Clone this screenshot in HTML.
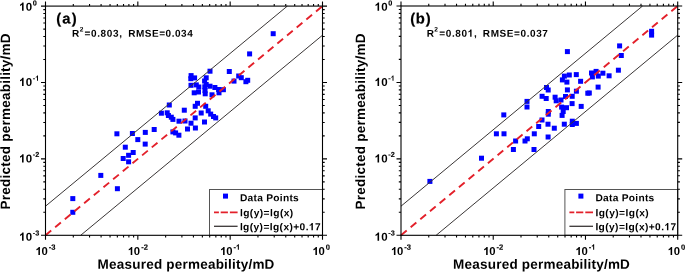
<!DOCTYPE html>
<html><head><meta charset="utf-8"><style>
html,body{margin:0;padding:0;background:#fff;}
#w{will-change:transform;width:685px;height:272px;}
svg{display:block;}
text{font-family:"Liberation Sans",sans-serif;font-weight:bold;fill:#000;text-rendering:geometricPrecision;}
.p{fill:#0000ff;}
</style></head><body><div id="w">
<svg width="685" height="272" viewBox="0 0 685 272">
<rect width="685" height="272" fill="#fff"/>
<rect x="70.3" y="196.1" width="5" height="5" class="p"/>
<rect x="70.3" y="209.8" width="5" height="5" class="p"/>
<rect x="98.3" y="172.9" width="5" height="5" class="p"/>
<rect x="114.9" y="186.2" width="5" height="5" class="p"/>
<rect x="114.4" y="131.3" width="5" height="5" class="p"/>
<rect x="129.9" y="131.0" width="5" height="5" class="p"/>
<rect x="142.8" y="129.9" width="5" height="5" class="p"/>
<rect x="135.3" y="137.1" width="5" height="5" class="p"/>
<rect x="142.7" y="141.6" width="5" height="5" class="p"/>
<rect x="122.8" y="144.7" width="5" height="5" class="p"/>
<rect x="130.7" y="150.0" width="5" height="5" class="p"/>
<rect x="126.1" y="152.8" width="5" height="5" class="p"/>
<rect x="120.7" y="156.0" width="5" height="5" class="p"/>
<rect x="126.1" y="159.3" width="5" height="5" class="p"/>
<rect x="151.7" y="127.0" width="5" height="5" class="p"/>
<rect x="170.4" y="129.4" width="5" height="5" class="p"/>
<rect x="173.1" y="130.4" width="5" height="5" class="p"/>
<rect x="176.4" y="132.7" width="5" height="5" class="p"/>
<rect x="166.8" y="102.5" width="5" height="5" class="p"/>
<rect x="158.9" y="110.7" width="5" height="5" class="p"/>
<rect x="164.7" y="110.3" width="5" height="5" class="p"/>
<rect x="165.9" y="113.0" width="5" height="5" class="p"/>
<rect x="168.8" y="114.7" width="5" height="5" class="p"/>
<rect x="170.4" y="116.9" width="5" height="5" class="p"/>
<rect x="176.5" y="118.7" width="5" height="5" class="p"/>
<rect x="181.8" y="107.7" width="5" height="5" class="p"/>
<rect x="182.5" y="118.5" width="5" height="5" class="p"/>
<rect x="185.0" y="126.5" width="5" height="5" class="p"/>
<rect x="188.5" y="120.7" width="5" height="5" class="p"/>
<rect x="192.7" y="115.4" width="5" height="5" class="p"/>
<rect x="192.7" y="103.8" width="5" height="5" class="p"/>
<rect x="195.0" y="100.8" width="5" height="5" class="p"/>
<rect x="203.2" y="103.8" width="5" height="5" class="p"/>
<rect x="198.7" y="110.5" width="5" height="5" class="p"/>
<rect x="205.7" y="108.3" width="5" height="5" class="p"/>
<rect x="208.2" y="111.6" width="5" height="5" class="p"/>
<rect x="211.0" y="114.0" width="5" height="5" class="p"/>
<rect x="213.2" y="115.4" width="5" height="5" class="p"/>
<rect x="202.0" y="119.5" width="5" height="5" class="p"/>
<rect x="192.9" y="125.5" width="5" height="5" class="p"/>
<rect x="188.6" y="73.1" width="5" height="5" class="p"/>
<rect x="192.1" y="75.4" width="5" height="5" class="p"/>
<rect x="207.5" y="68.7" width="5" height="5" class="p"/>
<rect x="203.7" y="75.3" width="5" height="5" class="p"/>
<rect x="202.1" y="78.5" width="5" height="5" class="p"/>
<rect x="188.5" y="82.8" width="5" height="5" class="p"/>
<rect x="193.8" y="82.4" width="5" height="5" class="p"/>
<rect x="196.3" y="84.5" width="5" height="5" class="p"/>
<rect x="203.7" y="82.0" width="5" height="5" class="p"/>
<rect x="207.5" y="83.7" width="5" height="5" class="p"/>
<rect x="212.4" y="85.0" width="5" height="5" class="p"/>
<rect x="191.7" y="90.3" width="5" height="5" class="p"/>
<rect x="196.0" y="89.5" width="5" height="5" class="p"/>
<rect x="202.5" y="88.0" width="5" height="5" class="p"/>
<rect x="202.7" y="91.3" width="5" height="5" class="p"/>
<rect x="226.8" y="69.0" width="5" height="5" class="p"/>
<rect x="236.2" y="73.5" width="5" height="5" class="p"/>
<rect x="238.8" y="75.2" width="5" height="5" class="p"/>
<rect x="231.5" y="78.6" width="5" height="5" class="p"/>
<rect x="243.4" y="79.2" width="5" height="5" class="p"/>
<rect x="245.2" y="77.8" width="5" height="5" class="p"/>
<rect x="247.1" y="51.4" width="5" height="5" class="p"/>
<rect x="270.7" y="31.2" width="5" height="5" class="p"/>
<rect x="188.3" y="76.2" width="5" height="5" class="p"/>
<rect x="209.5" y="92.3" width="5" height="5" class="p"/>
<rect x="216.5" y="90.3" width="5" height="5" class="p"/>
<rect x="220.9" y="87.2" width="5" height="5" class="p"/>
<rect x="216.1" y="87.0" width="5" height="5" class="p"/>
<rect x="202.3" y="84.3" width="5" height="5" class="p"/>
<line x1="45.5" y1="235.3" x2="322.5" y2="6.1" stroke="#e3202a" stroke-width="1.9" stroke-dasharray="7.4 5.14"/>
<line x1="45.5" y1="206.19" x2="287.32" y2="6.1" stroke="#3a3636" stroke-width="1.0"/>
<line x1="80.68" y1="235.3" x2="322.5" y2="35.21" stroke="#3a3636" stroke-width="1.0"/>
<rect x="209.5" y="189.5" width="113.0" height="45.80000000000001" fill="#fff" stroke="#555" stroke-width="1.0"/>
<rect x="223.0" y="193.6" width="5" height="5" fill="#0000ff"/>
<text x="239.92" y="201.20" font-size="10.2" letter-spacing="0.279" transform="rotate(0.05 239.92 201.20)">Data Points</text>
<line x1="214.0" y1="212.4" x2="237.6" y2="212.4" stroke="#e3202a" stroke-width="1.9" stroke-dasharray="4.9 1.8 7.2 2 7.7 100"/>
<text x="239.89" y="216.20" font-size="10.2" letter-spacing="0.440" transform="rotate(0.05 239.89 216.20)">lg(y)=lg(x)</text>
<line x1="214.0" y1="226.3" x2="237.6" y2="226.3" stroke="#3a3636" stroke-width="1.3"/>
<path d="M774 0L494 0L494 1055Q341 912 133 844L133 1098Q243 1134 372 1234Q501 1335 549 1466L774 1466Z" transform="translate(309.00,230.3) scale(0.00498,-0.00498)"/><text x="239.89" y="230.30" font-size="10.2" letter-spacing="0.402" transform="rotate(0.05 239.89 230.30)">lg(y)=lg(x)+0. 7</text>
<rect x="45.5" y="6.1" width="277.0" height="229.20000000000002" fill="none" stroke="#000" stroke-width="1.1"/>
<path d="M45.50 235.3v4.5M45.50 6.1v-4.5M45.5 235.30h-4.5M322.5 235.30h4.5M73.30 235.3v2.2M73.30 6.1v-2.2M45.5 212.30h-2.2M322.5 212.30h2.2M89.55 235.3v2.2M89.55 6.1v-2.2M45.5 198.85h-2.2M322.5 198.85h2.2M101.09 235.3v2.2M101.09 6.1v-2.2M45.5 189.30h-2.2M322.5 189.30h2.2M110.04 235.3v2.2M110.04 6.1v-2.2M45.5 181.90h-2.2M322.5 181.90h2.2M117.35 235.3v2.2M117.35 6.1v-2.2M45.5 175.85h-2.2M322.5 175.85h2.2M123.53 235.3v2.2M123.53 6.1v-2.2M45.5 170.73h-2.2M322.5 170.73h2.2M128.89 235.3v2.2M128.89 6.1v-2.2M45.5 166.30h-2.2M322.5 166.30h2.2M133.61 235.3v2.2M133.61 6.1v-2.2M45.5 162.40h-2.2M322.5 162.40h2.2M137.83 235.3v4.5M137.83 6.1v-4.5M45.5 158.90h-4.5M322.5 158.90h4.5M165.63 235.3v2.2M165.63 6.1v-2.2M45.5 135.90h-2.2M322.5 135.90h2.2M181.89 235.3v2.2M181.89 6.1v-2.2M45.5 122.45h-2.2M322.5 122.45h2.2M193.42 235.3v2.2M193.42 6.1v-2.2M45.5 112.90h-2.2M322.5 112.90h2.2M202.37 235.3v2.2M202.37 6.1v-2.2M45.5 105.50h-2.2M322.5 105.50h2.2M209.68 235.3v2.2M209.68 6.1v-2.2M45.5 99.45h-2.2M322.5 99.45h2.2M215.86 235.3v2.2M215.86 6.1v-2.2M45.5 94.33h-2.2M322.5 94.33h2.2M221.22 235.3v2.2M221.22 6.1v-2.2M45.5 89.90h-2.2M322.5 89.90h2.2M225.94 235.3v2.2M225.94 6.1v-2.2M45.5 86.00h-2.2M322.5 86.00h2.2M230.17 235.3v4.5M230.17 6.1v-4.5M45.5 82.50h-4.5M322.5 82.50h4.5M257.96 235.3v2.2M257.96 6.1v-2.2M45.5 59.50h-2.2M322.5 59.50h2.2M274.22 235.3v2.2M274.22 6.1v-2.2M45.5 46.05h-2.2M322.5 46.05h2.2M285.76 235.3v2.2M285.76 6.1v-2.2M45.5 36.50h-2.2M322.5 36.50h2.2M294.70 235.3v2.2M294.70 6.1v-2.2M45.5 29.10h-2.2M322.5 29.10h2.2M302.02 235.3v2.2M302.02 6.1v-2.2M45.5 23.05h-2.2M322.5 23.05h2.2M308.20 235.3v2.2M308.20 6.1v-2.2M45.5 17.93h-2.2M322.5 17.93h2.2M313.55 235.3v2.2M313.55 6.1v-2.2M45.5 13.50h-2.2M322.5 13.50h2.2M318.28 235.3v2.2M318.28 6.1v-2.2M45.5 9.60h-2.2M322.5 9.60h2.2M322.50 235.3v4.5M322.50 6.1v-4.5M45.5 6.10h-4.5M322.5 6.10h4.5" stroke="#000" stroke-width="1.1" fill="none"/>
<path d="M774 0L494 0L494 1055Q341 912 133 844L133 1098Q243 1134 372 1234Q501 1335 549 1466L774 1466Z" transform="translate(19.25,240.8) scale(0.00562,-0.00562)"/><text x="19.25" y="240.80" font-size="11.5" letter-spacing="0.227" transform="rotate(0.05 19.25 240.80)"> 0</text>
<text x="32.81" y="235.50" font-size="7.3" letter-spacing="0.000" transform="rotate(0.05 32.81 235.50)" stroke="#000" stroke-width="0.12">-3</text>
<path d="M774 0L494 0L494 1055Q341 912 133 844L133 1098Q243 1134 372 1234Q501 1335 549 1466L774 1466Z" transform="translate(35.67,255.0) scale(0.00552,-0.00552)"/><text x="35.67" y="255.00" font-size="11.3" letter-spacing="-0.472" transform="rotate(0.05 35.67 255.00)"> 0</text>
<text x="48.80" y="249.80" font-size="7.6" letter-spacing="0.000" transform="rotate(0.05 48.80 249.80)" stroke="#000" stroke-width="0.12">-3</text>
<path d="M774 0L494 0L494 1055Q341 912 133 844L133 1098Q243 1134 372 1234Q501 1335 549 1466L774 1466Z" transform="translate(19.25,162.4) scale(0.00562,-0.00562)"/><text x="19.25" y="162.40" font-size="11.5" letter-spacing="0.227" transform="rotate(0.05 19.25 162.40)"> 0</text>
<text x="32.81" y="157.10" font-size="7.3" letter-spacing="0.000" transform="rotate(0.05 32.81 157.10)" stroke="#000" stroke-width="0.12">-2</text>
<path d="M774 0L494 0L494 1055Q341 912 133 844L133 1098Q243 1134 372 1234Q501 1335 549 1466L774 1466Z" transform="translate(128.00,255.0) scale(0.00552,-0.00552)"/><text x="128.00" y="255.00" font-size="11.3" letter-spacing="-0.472" transform="rotate(0.05 128.00 255.00)"> 0</text>
<text x="141.14" y="249.80" font-size="7.6" letter-spacing="0.000" transform="rotate(0.05 141.14 249.80)" stroke="#000" stroke-width="0.12">-2</text>
<path d="M774 0L494 0L494 1055Q341 912 133 844L133 1098Q243 1134 372 1234Q501 1335 549 1466L774 1466Z" transform="translate(19.25,86.1) scale(0.00562,-0.00562)"/><text x="19.25" y="86.10" font-size="11.5" letter-spacing="0.227" transform="rotate(0.05 19.25 86.10)"> 0</text>
<path d="M774 0L494 0L494 1055Q341 912 133 844L133 1098Q243 1134 372 1234Q501 1335 549 1466L774 1466Z" transform="translate(35.25,80.8) scale(0.00356,-0.00356)"/><text x="32.81" y="80.80" font-size="7.3" letter-spacing="0.000" transform="rotate(0.05 32.81 80.80)" stroke="#000" stroke-width="0.12">- </text>
<path d="M774 0L494 0L494 1055Q341 912 133 844L133 1098Q243 1134 372 1234Q501 1335 549 1466L774 1466Z" transform="translate(220.33,255.0) scale(0.00552,-0.00552)"/><text x="220.33" y="255.00" font-size="11.3" letter-spacing="-0.472" transform="rotate(0.05 220.33 255.00)"> 0</text>
<path d="M774 0L494 0L494 1055Q341 912 133 844L133 1098Q243 1134 372 1234Q501 1335 549 1466L774 1466Z" transform="translate(236.00,249.8) scale(0.00371,-0.00371)"/><text x="233.47" y="249.80" font-size="7.6" letter-spacing="0.000" transform="rotate(0.05 233.47 249.80)" stroke="#000" stroke-width="0.12">- </text>
<path d="M774 0L494 0L494 1055Q341 912 133 844L133 1098Q243 1134 372 1234Q501 1335 549 1466L774 1466Z" transform="translate(19.25,10.8) scale(0.00562,-0.00562)"/><text x="19.25" y="10.80" font-size="11.5" letter-spacing="0.227" transform="rotate(0.05 19.25 10.80)"> 0</text>
<text x="32.81" y="5.50" font-size="7.3" letter-spacing="0.000" transform="rotate(0.05 32.81 5.50)" stroke="#000" stroke-width="0.12">0</text>
<path d="M774 0L494 0L494 1055Q341 912 133 844L133 1098Q243 1134 372 1234Q501 1335 549 1466L774 1466Z" transform="translate(312.67,255.0) scale(0.00552,-0.00552)"/><text x="312.67" y="255.00" font-size="11.3" letter-spacing="-0.472" transform="rotate(0.05 312.67 255.00)"> 0</text>
<text x="325.80" y="249.80" font-size="7.6" letter-spacing="0.000" transform="rotate(0.05 325.80 249.80)" stroke="#000" stroke-width="0.12">0</text>
<text x="97.60" y="268.70" font-size="13.5" letter-spacing="0.216" transform="rotate(0.05 97.60 268.70)">Measured permeability/mD</text>
<text transform="translate(9.90,209.40) rotate(-89.95)" x="0" y="0" font-size="13.5" letter-spacing="0.236">Predicted permeability/mD</text>
<text x="56.26" y="23.50" font-size="14.8" letter-spacing="1.193" transform="rotate(0.05 56.26 23.50)" stroke="#000" stroke-width="0.2">(a)</text>
<text x="71.93" y="36.70" font-size="10" letter-spacing="0.000" transform="rotate(0.05 71.93 36.70)">R</text>
<text x="79.67" y="31.60" font-size="6.6" letter-spacing="0.000" transform="rotate(0.05 79.67 31.60)">2</text>
<text x="84.48" y="36.70" font-size="10" letter-spacing="0.657" transform="rotate(0.05 84.48 36.70)">=0.803,</text>
<text x="128.13" y="36.70" font-size="10" letter-spacing="0.541" transform="rotate(0.05 128.13 36.70)">RMSE=0.034</text>
<rect x="427.4" y="178.9" width="5" height="5" class="p"/>
<rect x="479.0" y="155.7" width="5" height="5" class="p"/>
<rect x="493.9" y="131.3" width="5" height="5" class="p"/>
<rect x="501.5" y="131.3" width="5" height="5" class="p"/>
<rect x="501.3" y="112.4" width="5" height="5" class="p"/>
<rect x="524.5" y="98.9" width="5" height="5" class="p"/>
<rect x="524.5" y="104.5" width="5" height="5" class="p"/>
<rect x="513.1" y="138.5" width="5" height="5" class="p"/>
<rect x="510.9" y="147.0" width="5" height="5" class="p"/>
<rect x="522.5" y="138.5" width="5" height="5" class="p"/>
<rect x="524.8" y="136.3" width="5" height="5" class="p"/>
<rect x="531.8" y="131.3" width="5" height="5" class="p"/>
<rect x="531.5" y="147.0" width="5" height="5" class="p"/>
<rect x="536.2" y="124.0" width="5" height="5" class="p"/>
<rect x="539.5" y="117.5" width="5" height="5" class="p"/>
<rect x="545.5" y="121.7" width="5" height="5" class="p"/>
<rect x="545.6" y="134.5" width="5" height="5" class="p"/>
<rect x="551.8" y="125.7" width="5" height="5" class="p"/>
<rect x="561.8" y="121.7" width="5" height="5" class="p"/>
<rect x="569.8" y="118.7" width="5" height="5" class="p"/>
<rect x="569.8" y="122.0" width="5" height="5" class="p"/>
<rect x="573.9" y="120.9" width="5" height="5" class="p"/>
<rect x="544.0" y="85.0" width="5" height="5" class="p"/>
<rect x="545.7" y="87.5" width="5" height="5" class="p"/>
<rect x="539.6" y="93.8" width="5" height="5" class="p"/>
<rect x="543.7" y="96.0" width="5" height="5" class="p"/>
<rect x="552.6" y="94.7" width="5" height="5" class="p"/>
<rect x="553.7" y="98.3" width="5" height="5" class="p"/>
<rect x="558.5" y="97.5" width="5" height="5" class="p"/>
<rect x="563.0" y="94.0" width="5" height="5" class="p"/>
<rect x="569.7" y="93.8" width="5" height="5" class="p"/>
<rect x="569.6" y="101.1" width="5" height="5" class="p"/>
<rect x="559.1" y="104.6" width="5" height="5" class="p"/>
<rect x="564.0" y="105.2" width="5" height="5" class="p"/>
<rect x="560.7" y="109.0" width="5" height="5" class="p"/>
<rect x="559.6" y="112.9" width="5" height="5" class="p"/>
<rect x="545.8" y="109.0" width="5" height="5" class="p"/>
<rect x="545.8" y="111.7" width="5" height="5" class="p"/>
<rect x="578.7" y="103.9" width="5" height="5" class="p"/>
<rect x="561.9" y="73.6" width="5" height="5" class="p"/>
<rect x="566.8" y="72.5" width="5" height="5" class="p"/>
<rect x="573.8" y="72.1" width="5" height="5" class="p"/>
<rect x="559.9" y="77.4" width="5" height="5" class="p"/>
<rect x="564.4" y="79.6" width="5" height="5" class="p"/>
<rect x="578.1" y="78.8" width="5" height="5" class="p"/>
<rect x="564.9" y="87.4" width="5" height="5" class="p"/>
<rect x="573.9" y="88.7" width="5" height="5" class="p"/>
<rect x="585.3" y="90.7" width="5" height="5" class="p"/>
<rect x="595.6" y="84.6" width="5" height="5" class="p"/>
<rect x="589.0" y="70.5" width="5" height="5" class="p"/>
<rect x="593.6" y="68.9" width="5" height="5" class="p"/>
<rect x="589.9" y="74.4" width="5" height="5" class="p"/>
<rect x="595.8" y="73.6" width="5" height="5" class="p"/>
<rect x="600.4" y="70.7" width="5" height="5" class="p"/>
<rect x="606.6" y="73.3" width="5" height="5" class="p"/>
<rect x="615.9" y="67.7" width="5" height="5" class="p"/>
<rect x="617.1" y="43.4" width="5" height="5" class="p"/>
<rect x="618.8" y="53.0" width="5" height="5" class="p"/>
<rect x="649.1" y="28.8" width="5" height="5" class="p"/>
<rect x="649.1" y="32.6" width="5" height="5" class="p"/>
<rect x="564.9" y="49.1" width="5" height="5" class="p"/>
<rect x="586.8" y="90.5" width="5" height="5" class="p"/>
<line x1="401.0" y1="235.3" x2="677.7" y2="6.0" stroke="#e3202a" stroke-width="1.9" stroke-dasharray="7.4 5.14"/>
<line x1="401.0" y1="206.18" x2="642.56" y2="6.0" stroke="#3a3636" stroke-width="1.0"/>
<line x1="436.14" y1="235.3" x2="677.7" y2="35.12" stroke="#3a3636" stroke-width="1.0"/>
<rect x="564.9" y="189.5" width="112.80000000000007" height="45.80000000000001" fill="#fff" stroke="#555" stroke-width="1.0"/>
<rect x="578.4" y="193.6" width="5" height="5" fill="#0000ff"/>
<text x="595.42" y="201.20" font-size="10.2" letter-spacing="0.279" transform="rotate(0.05 595.42 201.20)">Data Points</text>
<line x1="569.4" y1="212.4" x2="593.0" y2="212.4" stroke="#e3202a" stroke-width="1.9" stroke-dasharray="4.9 1.8 7.2 2 7.7 100"/>
<text x="595.39" y="216.20" font-size="10.2" letter-spacing="0.440" transform="rotate(0.05 595.39 216.20)">lg(y)=lg(x)</text>
<line x1="569.4" y1="226.3" x2="593.0" y2="226.3" stroke="#3a3636" stroke-width="1.3"/>
<path d="M774 0L494 0L494 1055Q341 912 133 844L133 1098Q243 1134 372 1234Q501 1335 549 1466L774 1466Z" transform="translate(664.50,230.3) scale(0.00498,-0.00498)"/><text x="595.39" y="230.30" font-size="10.2" letter-spacing="0.402" transform="rotate(0.05 595.39 230.30)">lg(y)=lg(x)+0. 7</text>
<rect x="401.0" y="6.0" width="276.70000000000005" height="229.3" fill="none" stroke="#000" stroke-width="1.1"/>
<path d="M401.00 235.3v4.5M401.00 6.0v-4.5M401.0 235.30h-4.5M677.7 235.30h4.5M428.76 235.3v2.2M428.76 6.0v-2.2M401.0 212.29h-2.2M677.7 212.29h2.2M445.01 235.3v2.2M445.01 6.0v-2.2M401.0 198.83h-2.2M677.7 198.83h2.2M456.53 235.3v2.2M456.53 6.0v-2.2M401.0 189.28h-2.2M677.7 189.28h2.2M465.47 235.3v2.2M465.47 6.0v-2.2M401.0 181.88h-2.2M677.7 181.88h2.2M472.77 235.3v2.2M472.77 6.0v-2.2M401.0 175.82h-2.2M677.7 175.82h2.2M478.95 235.3v2.2M478.95 6.0v-2.2M401.0 170.71h-2.2M677.7 170.71h2.2M484.29 235.3v2.2M484.29 6.0v-2.2M401.0 166.27h-2.2M677.7 166.27h2.2M489.01 235.3v2.2M489.01 6.0v-2.2M401.0 162.36h-2.2M677.7 162.36h2.2M493.23 235.3v4.5M493.23 6.0v-4.5M401.0 158.87h-4.5M677.7 158.87h4.5M521.00 235.3v2.2M521.00 6.0v-2.2M401.0 135.86h-2.2M677.7 135.86h2.2M537.24 235.3v2.2M537.24 6.0v-2.2M401.0 122.40h-2.2M677.7 122.40h2.2M548.76 235.3v2.2M548.76 6.0v-2.2M401.0 112.85h-2.2M677.7 112.85h2.2M557.70 235.3v2.2M557.70 6.0v-2.2M401.0 105.44h-2.2M677.7 105.44h2.2M565.00 235.3v2.2M565.00 6.0v-2.2M401.0 99.39h-2.2M677.7 99.39h2.2M571.18 235.3v2.2M571.18 6.0v-2.2M401.0 94.27h-2.2M677.7 94.27h2.2M576.53 235.3v2.2M576.53 6.0v-2.2M401.0 89.84h-2.2M677.7 89.84h2.2M581.25 235.3v2.2M581.25 6.0v-2.2M401.0 85.93h-2.2M677.7 85.93h2.2M585.47 235.3v4.5M585.47 6.0v-4.5M401.0 82.43h-4.5M677.7 82.43h4.5M613.23 235.3v2.2M613.23 6.0v-2.2M401.0 59.42h-2.2M677.7 59.42h2.2M629.47 235.3v2.2M629.47 6.0v-2.2M401.0 45.97h-2.2M677.7 45.97h2.2M641.00 235.3v2.2M641.00 6.0v-2.2M401.0 36.42h-2.2M677.7 36.42h2.2M649.94 235.3v2.2M649.94 6.0v-2.2M401.0 29.01h-2.2M677.7 29.01h2.2M657.24 235.3v2.2M657.24 6.0v-2.2M401.0 22.96h-2.2M677.7 22.96h2.2M663.41 235.3v2.2M663.41 6.0v-2.2M401.0 17.84h-2.2M677.7 17.84h2.2M668.76 235.3v2.2M668.76 6.0v-2.2M401.0 13.41h-2.2M677.7 13.41h2.2M673.48 235.3v2.2M673.48 6.0v-2.2M401.0 9.50h-2.2M677.7 9.50h2.2M677.70 235.3v4.5M677.70 6.0v-4.5M401.0 6.00h-4.5M677.7 6.00h4.5" stroke="#000" stroke-width="1.1" fill="none"/>
<path d="M774 0L494 0L494 1055Q341 912 133 844L133 1098Q243 1134 372 1234Q501 1335 549 1466L774 1466Z" transform="translate(374.75,240.8) scale(0.00562,-0.00562)"/><text x="374.75" y="240.80" font-size="11.5" letter-spacing="0.227" transform="rotate(0.05 374.75 240.80)"> 0</text>
<text x="388.31" y="235.50" font-size="7.3" letter-spacing="0.000" transform="rotate(0.05 388.31 235.50)" stroke="#000" stroke-width="0.12">-3</text>
<path d="M774 0L494 0L494 1055Q341 912 133 844L133 1098Q243 1134 372 1234Q501 1335 549 1466L774 1466Z" transform="translate(391.17,255.0) scale(0.00552,-0.00552)"/><text x="391.17" y="255.00" font-size="11.3" letter-spacing="-0.472" transform="rotate(0.05 391.17 255.00)"> 0</text>
<text x="404.30" y="249.80" font-size="7.6" letter-spacing="0.000" transform="rotate(0.05 404.30 249.80)" stroke="#000" stroke-width="0.12">-3</text>
<path d="M774 0L494 0L494 1055Q341 912 133 844L133 1098Q243 1134 372 1234Q501 1335 549 1466L774 1466Z" transform="translate(374.75,162.4) scale(0.00562,-0.00562)"/><text x="374.75" y="162.40" font-size="11.5" letter-spacing="0.227" transform="rotate(0.05 374.75 162.40)"> 0</text>
<text x="388.31" y="157.10" font-size="7.3" letter-spacing="0.000" transform="rotate(0.05 388.31 157.10)" stroke="#000" stroke-width="0.12">-2</text>
<path d="M774 0L494 0L494 1055Q341 912 133 844L133 1098Q243 1134 372 1234Q501 1335 549 1466L774 1466Z" transform="translate(483.40,255.0) scale(0.00552,-0.00552)"/><text x="483.40" y="255.00" font-size="11.3" letter-spacing="-0.472" transform="rotate(0.05 483.40 255.00)"> 0</text>
<text x="496.54" y="249.80" font-size="7.6" letter-spacing="0.000" transform="rotate(0.05 496.54 249.80)" stroke="#000" stroke-width="0.12">-2</text>
<path d="M774 0L494 0L494 1055Q341 912 133 844L133 1098Q243 1134 372 1234Q501 1335 549 1466L774 1466Z" transform="translate(374.75,86.1) scale(0.00562,-0.00562)"/><text x="374.75" y="86.10" font-size="11.5" letter-spacing="0.227" transform="rotate(0.05 374.75 86.10)"> 0</text>
<path d="M774 0L494 0L494 1055Q341 912 133 844L133 1098Q243 1134 372 1234Q501 1335 549 1466L774 1466Z" transform="translate(390.75,80.8) scale(0.00356,-0.00356)"/><text x="388.31" y="80.80" font-size="7.3" letter-spacing="0.000" transform="rotate(0.05 388.31 80.80)" stroke="#000" stroke-width="0.12">- </text>
<path d="M774 0L494 0L494 1055Q341 912 133 844L133 1098Q243 1134 372 1234Q501 1335 549 1466L774 1466Z" transform="translate(575.63,255.0) scale(0.00552,-0.00552)"/><text x="575.63" y="255.00" font-size="11.3" letter-spacing="-0.472" transform="rotate(0.05 575.63 255.00)"> 0</text>
<path d="M774 0L494 0L494 1055Q341 912 133 844L133 1098Q243 1134 372 1234Q501 1335 549 1466L774 1466Z" transform="translate(591.30,249.8) scale(0.00371,-0.00371)"/><text x="588.77" y="249.80" font-size="7.6" letter-spacing="0.000" transform="rotate(0.05 588.77 249.80)" stroke="#000" stroke-width="0.12">- </text>
<path d="M774 0L494 0L494 1055Q341 912 133 844L133 1098Q243 1134 372 1234Q501 1335 549 1466L774 1466Z" transform="translate(374.75,10.8) scale(0.00562,-0.00562)"/><text x="374.75" y="10.80" font-size="11.5" letter-spacing="0.227" transform="rotate(0.05 374.75 10.80)"> 0</text>
<text x="388.31" y="5.50" font-size="7.3" letter-spacing="0.000" transform="rotate(0.05 388.31 5.50)" stroke="#000" stroke-width="0.12">0</text>
<path d="M774 0L494 0L494 1055Q341 912 133 844L133 1098Q243 1134 372 1234Q501 1335 549 1466L774 1466Z" transform="translate(667.87,255.0) scale(0.00552,-0.00552)"/><text x="667.87" y="255.00" font-size="11.3" letter-spacing="-0.472" transform="rotate(0.05 667.87 255.00)"> 0</text>
<text x="681.00" y="249.80" font-size="7.6" letter-spacing="0.000" transform="rotate(0.05 681.00 249.80)" stroke="#000" stroke-width="0.12">0</text>
<text x="453.10" y="268.70" font-size="13.5" letter-spacing="0.216" transform="rotate(0.05 453.10 268.70)">Measured permeability/mD</text>
<text transform="translate(364.90,209.40) rotate(-89.95)" x="0" y="0" font-size="13.5" letter-spacing="0.236">Predicted permeability/mD</text>
<text x="410.16" y="23.50" font-size="14.8" letter-spacing="0.788" transform="rotate(0.05 410.16 23.50)" stroke="#000" stroke-width="0.2">(b)</text>
<text x="426.63" y="36.70" font-size="10" letter-spacing="0.000" transform="rotate(0.05 426.63 36.70)">R</text>
<text x="434.37" y="31.60" font-size="6.6" letter-spacing="0.000" transform="rotate(0.05 434.37 31.60)">2</text>
<path d="M774 0L494 0L494 1055Q341 912 133 844L133 1098Q243 1134 372 1234Q501 1335 549 1466L774 1466Z" transform="translate(467.77,36.7) scale(0.00488,-0.00488)"/><text x="439.18" y="36.70" font-size="10" letter-spacing="0.657" transform="rotate(0.05 439.18 36.70)">=0.80 ,</text>
<text x="482.83" y="36.70" font-size="10" letter-spacing="0.584" transform="rotate(0.05 482.83 36.70)">RMSE=0.037</text>
</svg></div></body></html>
